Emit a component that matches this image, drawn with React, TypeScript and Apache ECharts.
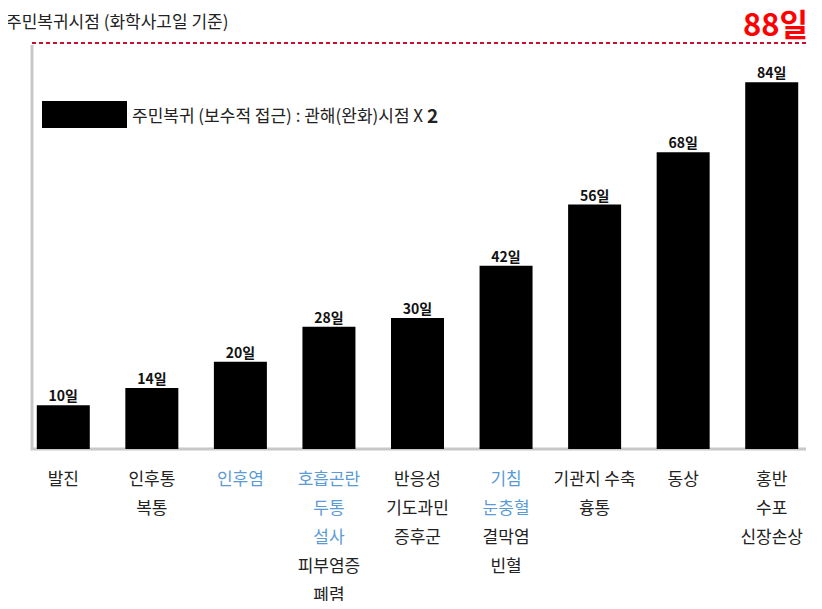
import React, { useEffect, useRef } from "react";
import * as echarts from "echarts";

const categoryLines: string[][] = [
  ["발진"],
  ["인후통", "복통"],
  ["인후염"],
  ["호흡곤란", "두통", "설사", "피부염증", "폐렴"],
  ["반응성", "기도과민", "증후군"],
  ["기침", "눈충혈", "결막염", "빈혈"],
  ["기관지 수축", "흉통"],
  ["동상"],
  ["홍반", "수포", "신장손상"],
];
// number of leading lines shown in blue for each category
const blueLineCounts = [0, 0, 1, 3, 0, 2, 0, 0, 0];
const returnDays = [10, 14, 20, 28, 30, 42, 56, 68, 84];
const seriesName = "주민복귀 (보수적 접근) : 관해(완화)시점 X 2";
const titleText = "주민복귀시점 (화학사고일 기준)";
const maxDayText = "88일";

const FONT = "'Noto Sans CJK KR', 'Noto Sans', sans-serif";

export default function App() {
  const ref = useRef<HTMLDivElement>(null);
  useEffect(() => {
    if (!ref.current) return;
    const chart = echarts.init(ref.current, null, { renderer: "svg" });
    const categories = categoryLines.map((l) => l.join("\n"));
    chart.setOption({
      animation: false,
      textStyle: { fontFamily: FONT },
      title: [
        {
          text: titleText,
          left: 6,
          top: 12,
          padding: 0,
          textStyle: { fontSize: 17, fontWeight: "normal", color: "#222", fontFamily: FONT },
        },
        {
          text: maxDayText,
          right: 14,
          top: 7,
          padding: 0,
          textStyle: { fontSize: 31, fontWeight: "bold", color: "#ff0000", fontFamily: FONT },
        },
      ],
      legend: {
        left: 42,
        top: 101,
        padding: 0,
        icon: "rect",
        itemWidth: 85,
        itemHeight: 27,
        itemGap: 6,
        data: [seriesName],
        formatter: () => "{a|주민복귀 (보수적 접근) : 관해(완화)시점 X }{b|2}",
        textStyle: {
          fontFamily: FONT,
          rich: {
            a: { fontSize: 17, color: "#222", fontFamily: FONT },
            b: { fontSize: 19, fontWeight: "bold", color: "#222", fontFamily: FONT },
          },
        },
      },
      grid: { left: 19, right: 6, top: 43, bottom: 160, containLabel: false },
      xAxis: {
        type: "category",
        data: categories,
        axisLine: { show: false },
        axisTick: { show: false },
        axisLabel: {
          interval: 0,
          margin: 14,
          formatter: (_v: string, idx: number) => {
            const lines = categoryLines[idx];
            return lines
              .map((t, i) => (i < blueLineCounts[idx] ? `{b|${t}}` : `{k|${t}}`))
              .join("\n");
          },
          rich: {
            k: { fontSize: 17, color: "#222", lineHeight: 29, fontFamily: FONT },
            b: { fontSize: 17, color: "#5b9bd5", lineHeight: 29, fontFamily: FONT },
          },
        },
      },
      yAxis: {
        type: "value",
        min: 0,
        max: 93,
        show: false,
        splitLine: { show: false },
      },
      graphic: [
        {
          type: "polyline",
          shape: { points: [[32, 45], [32, 449], [806, 449]] },
          style: { stroke: "#c8c8c8", lineWidth: 3, fill: null },
          z: 1,
        },
        {
          type: "line",
          shape: { x1: 32, y1: 43, x2: 808, y2: 43 },
          style: { stroke: "#c8102e", lineWidth: 2, lineDash: [4, 3] },
          z: 1,
        },
      ],
      series: [
        {
          name: seriesName,
          type: "bar",
          data: returnDays,
          barWidth: 53,
          itemStyle: { color: "#000" },
          z: 2,
          label: {
            show: true,
            position: "top",
            distance: 3,
            formatter: (p: any) => `${p.value}일`,
            fontSize: 14,
            fontWeight: "bold",
            color: "#111",
            fontFamily: FONT,
          },
        },
      ],
    });
    return () => chart.dispose();
  }, []);
  return <div ref={ref} style={{ width: 822, height: 609, margin: -8 }} />;
}
